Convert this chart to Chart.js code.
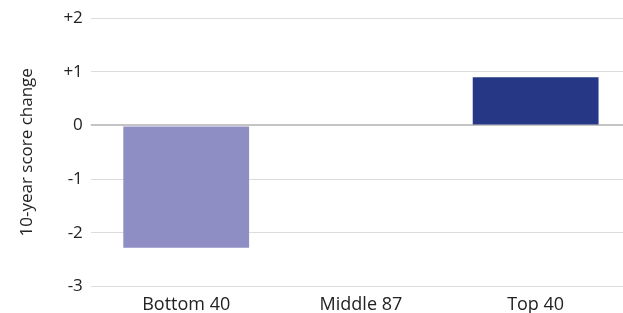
<!DOCTYPE html>
<html><head><meta charset="utf-8">
<script src="https://cdn.jsdelivr.net/npm/chart.js@4.4.0/dist/chart.umd.min.js"></script>
<style>html,body{margin:0;padding:0;background:#fff}#w{width:623px;height:313px}</style>
</head><body><div id="w"><canvas id="c"></canvas></div>
<script>
const categories = ["Bottom 40", "Middle 87", "Top 40"];
const scoreChange = [-2.28, -0.02, 0.9];
const barColors = ["#8f8ec4", "#a9a8cc", "#253785"];
const tickValues = [2, 1, 0, -1, -2, -3];
const tickLabels = {"2":"+2","1":"+1","0":"0","-1":"-1","-2":"-2","-3":"-3"};

Chart.defaults.font.family = "'Open Sans', 'Noto Sans', sans-serif";
Chart.defaults.font.size = 17;
Chart.defaults.color = "#222";

new Chart(document.getElementById("c"), {
  type: "bar",
  data: { labels: categories, datasets: [{ data: scoreChange, backgroundColor: barColors, categoryPercentage: 0.72, barPercentage: 1 }] },
  options: {
    responsive: true, maintainAspectRatio: false, animation: false,
    layout: { padding: { top: 17, right: 0, bottom: -3, left: 17 } },
    plugins: { legend: { display: false }, tooltip: { enabled: false } },
    scales: {
      x: {
        grid: { display: false }, border: { display: false },
        ticks: { padding: 0, color: "#222", font: { size: 18, lineHeight: 1.2 } }
      },
      y: {
        min: -3, max: 2,
        afterBuildTicks: (ax) => { ax.ticks = tickValues.map(v => ({ value: v })); },
        ticks: { padding: 8, callback: (v) => tickLabels[String(v)] ?? v, color: "#222", font: { size: 17 } },
        grid: {
          color: (ctx) => ctx.tick && ctx.tick.value === 0 ? "#c4c4c4" : "#dcdcdc",
          lineWidth: (ctx) => ctx.tick && ctx.tick.value === 0 ? 2 : 1,
          tickLength: 8
        },
        border: { display: false },
        title: { display: true, text: "10-year score change", color: "#222", padding: { top: 0, bottom: 18 } }
      }
    }
  }
});
</script></body></html>
